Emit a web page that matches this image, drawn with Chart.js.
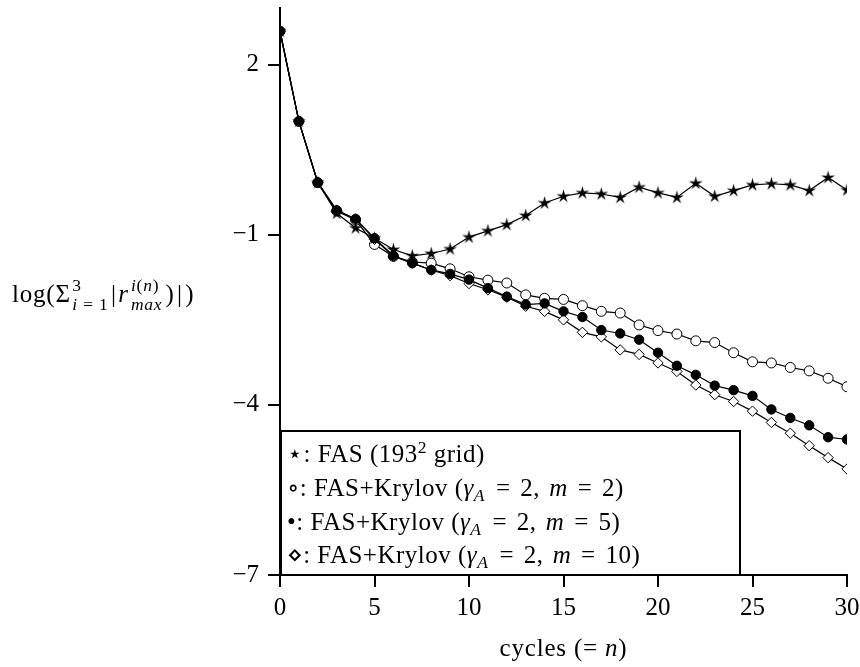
<!DOCTYPE html>
<html><head><meta charset="utf-8">
<script src="https://cdn.jsdelivr.net/npm/chart.js@4.4.0/dist/chart.umd.min.js"></script>
<style>html,body{margin:0;padding:0;background:#fff;}#wrap{width:860px;height:667px;}</style>
</head><body><div id="wrap"><canvas id="c" width="860" height="667"></canvas></div>
<script>
// ---- data ----
const cycles = [0,1,2,3,4,5,6,7,8,9,10,11,12,13,14,15,16,17,18,19,20,21,22,23,24,25,26,27,28,29,30];
const fasGrid = [2.59,1.0,-0.08,-0.62,-0.88,-1.06,-1.26,-1.37,-1.33,-1.25,-1.04,-0.93,-0.82,-0.66,-0.44,-0.32,-0.26,-0.28,-0.34,-0.16,-0.26,-0.34,-0.09,-0.32,-0.22,-0.12,-0.10,-0.12,-0.22,0.01,-0.21];
const krylovM2 = [2.59,1.0,-0.08,-0.58,-0.74,-1.17,-1.38,-1.48,-1.50,-1.60,-1.74,-1.80,-1.85,-2.06,-2.12,-2.14,-2.25,-2.35,-2.38,-2.59,-2.69,-2.75,-2.87,-2.90,-3.08,-3.24,-3.26,-3.34,-3.40,-3.53,-3.68];
const krylovM5 = [2.59,1.0,-0.08,-0.57,-0.72,-1.06,-1.37,-1.50,-1.62,-1.69,-1.79,-1.94,-2.09,-2.23,-2.21,-2.35,-2.45,-2.68,-2.74,-2.85,-3.08,-3.31,-3.47,-3.66,-3.74,-3.84,-4.08,-4.23,-4.36,-4.57,-4.61];
const krylovM10 = [2.59,1.0,-0.08,-0.57,-0.72,-1.08,-1.38,-1.50,-1.62,-1.72,-1.86,-1.97,-2.10,-2.26,-2.35,-2.50,-2.72,-2.80,-3.03,-3.11,-3.26,-3.41,-3.65,-3.82,-3.94,-4.11,-4.31,-4.50,-4.72,-4.93,-5.13];
const xTicks = [0,5,10,15,20,25,30];
const yTicks = [-7,-4,-1,2];

const SERIF = '"Liberation Serif","DejaVu Serif",serif';

function starCanvas(){
  const c=document.createElement('canvas'); c.width=c.height=15;
  const g=c.getContext('2d'); g.beginPath();
  for(let k=0;k<10;k++){ const r=k%2?2.4:7.2; const a=-Math.PI/2+k*Math.PI/5; g.lineTo(7.5+r*Math.cos(a),7.7+r*Math.sin(a)); }
  g.closePath(); g.fillStyle='#000'; g.fill(); return c;
}

function measureParts(ctx, parts, size){
  let w=0;
  for(const p of parts){
    if(p.stack){ w+=Math.max(measureParts(ctx,p.sup,size*0.7),measureParts(ctx,p.sub,size*0.7))+(p.sp||0)*size; continue; }
    const s=size*(p.s||1);
    ctx.font=(p.i?'italic ':'')+s+'px '+SERIF;
    w+=ctx.measureText(p.t).width+(p.sp||0)*size;
  }
  return w;
}
function rich(ctx,x,y,parts,size){
  for(const p of parts){
    if(p.stack){
      const a=rich(ctx,x,y-size*0.45,p.sup,size*0.7);
      const b=rich(ctx,x,y+size*0.3,p.sub,size*0.7);
      x=Math.max(a,b)+(p.sp||0)*size; continue;
    }
    const s=size*(p.s||1);
    ctx.font=(p.i?'italic ':'')+s+'px '+SERIF;
    ctx.fillText(p.t,x+(p.pre||0)*size,y+(p.dy||0)*size);
    x+=ctx.measureText(p.t).width+((p.sp||0)+(p.pre||0))*size;
  }
  return x;
}

const yTitleParts=[{t:'log(Σ',sp:0.06},{stack:true,sp:0.1,sup:[{t:'3'}],sub:[{t:'i',i:1},{t:' = 1'}]},{t:'|',sp:0.06},{t:'r',i:1,sp:0.08},
  {stack:true,sp:0.12,sup:[{t:'i',i:1},{t:'('},{t:'n',i:1},{t:')'}],sub:[{t:'max',i:1}]},{t:')',sp:0.1},{t:'|',sp:0.1},{t:')'}];
const xTitleParts=[{t:'cycles (= '},{t:'n',i:1},{t:')'}];
function kry(m){return [{t:': FAS+Krylov ('},{t:'γ',i:1},{t:'A',i:1,s:0.7,dy:0.2,sp:0.05},{t:' = ',pre:0.12,sp:0.12},{t:'2,',sp:0.1},{t:' '},{t:'m',i:1},{t:' = ',pre:0.12,sp:0.12},{t:m+')'}];}
const legendLines=[
  [{t:'⋆'},{t:': FAS (193'},{t:'2',s:0.7,dy:-0.38},{t:' grid)'}],
  [{t:'∘'}].concat(kry(2)),
  [{t:'•'}].concat(kry(5)),
  [{t:'⋄'}].concat(kry(10))
];

const decor={id:'decor',afterDraw(chart){
  const ctx=chart.ctx; ctx.save(); ctx.fillStyle='#000'; ctx.textBaseline='alphabetic';
  ctx.letterSpacing='0.8px';
  rich(ctx,12,302,yTitleParts,25);
  ctx.letterSpacing='0.8px';
  const ca=chart.chartArea;
  const w=measureParts(ctx,xTitleParts,25);
  rich(ctx,(ca.left+ca.right)/2-w/2,656,xTitleParts,25);
  // legend box
  ctx.letterSpacing='0px';
  ctx.fillStyle='#fff'; ctx.fillRect(281,431,458,143);
  ctx.strokeStyle='#000'; ctx.lineWidth=2; ctx.strokeRect(281,431,459,144);
  ctx.fillStyle='#000';
  ctx.letterSpacing='0.5px';
  const base=[462,496,530,563];
  legendLines.forEach((l,i)=>rich(ctx,287,base[i],l,25));
  ctx.restore();
}};

const mk=(label,data,style,bg,r,order)=>({label,order,data:cycles.map((x,i)=>({x,y:data[i]})),borderColor:'#000',borderWidth:1.2,
  pointStyle:style,pointRadius:r,pointHoverRadius:r,pointBackgroundColor:bg,pointBorderColor:'#000',pointBorderWidth:1,tension:0,fill:false});

new Chart(document.getElementById('c'),{
  type:'line',
  data:{datasets:[
    mk('FAS (193^2 grid)',fasGrid,starCanvas(),'#000',6,1),
    mk('FAS+Krylov (γA = 2, m = 2)',krylovM2,'circle','#fff',5,3),
    mk('FAS+Krylov (γA = 2, m = 5)',krylovM5,'circle','#000',4.7,0),
    mk('FAS+Krylov (γA = 2, m = 10)',krylovM10,'rectRot','#fff',5.2,2)
  ]},
  options:{
    responsive:false,animation:false,devicePixelRatio:1,
    layout:{padding:{top:8,right:13,left:0,bottom:0}},
    plugins:{legend:{display:false},tooltip:{enabled:false}},
    scales:{
      x:{type:'linear',min:0,max:30,
        afterBuildTicks:s=>{s.ticks=xTicks.map(v=>({value:v}));},
        afterFit:s=>{s.height=92;s.paddingLeft=0;s.paddingRight=0;},
        ticks:{color:'#000',font:{family:SERIF,size:25},padding:6,maxRotation:0,callback:v=>String(v)},
        grid:{drawOnChartArea:false,drawTicks:true,tickLength:12,color:'#000',lineWidth:2},
        border:{color:'#000',width:2}},
      y:{type:'linear',min:-7,max:3,
        afterBuildTicks:s=>{s.ticks=yTicks.map(v=>({value:v}));},
        afterFit:s=>{s.width=280;s.paddingTop=0;s.paddingBottom=0;},
        ticks:{color:'#000',font:{family:SERIF,size:25},padding:9,callback:v=>v<0?'\u2212'+Math.abs(v):String(v)},
        grid:{drawOnChartArea:false,drawTicks:true,tickLength:12,color:'#000',lineWidth:2},
        border:{color:'#000',width:2}}
    }
  },
  plugins:[decor]
});
</script></body></html>
